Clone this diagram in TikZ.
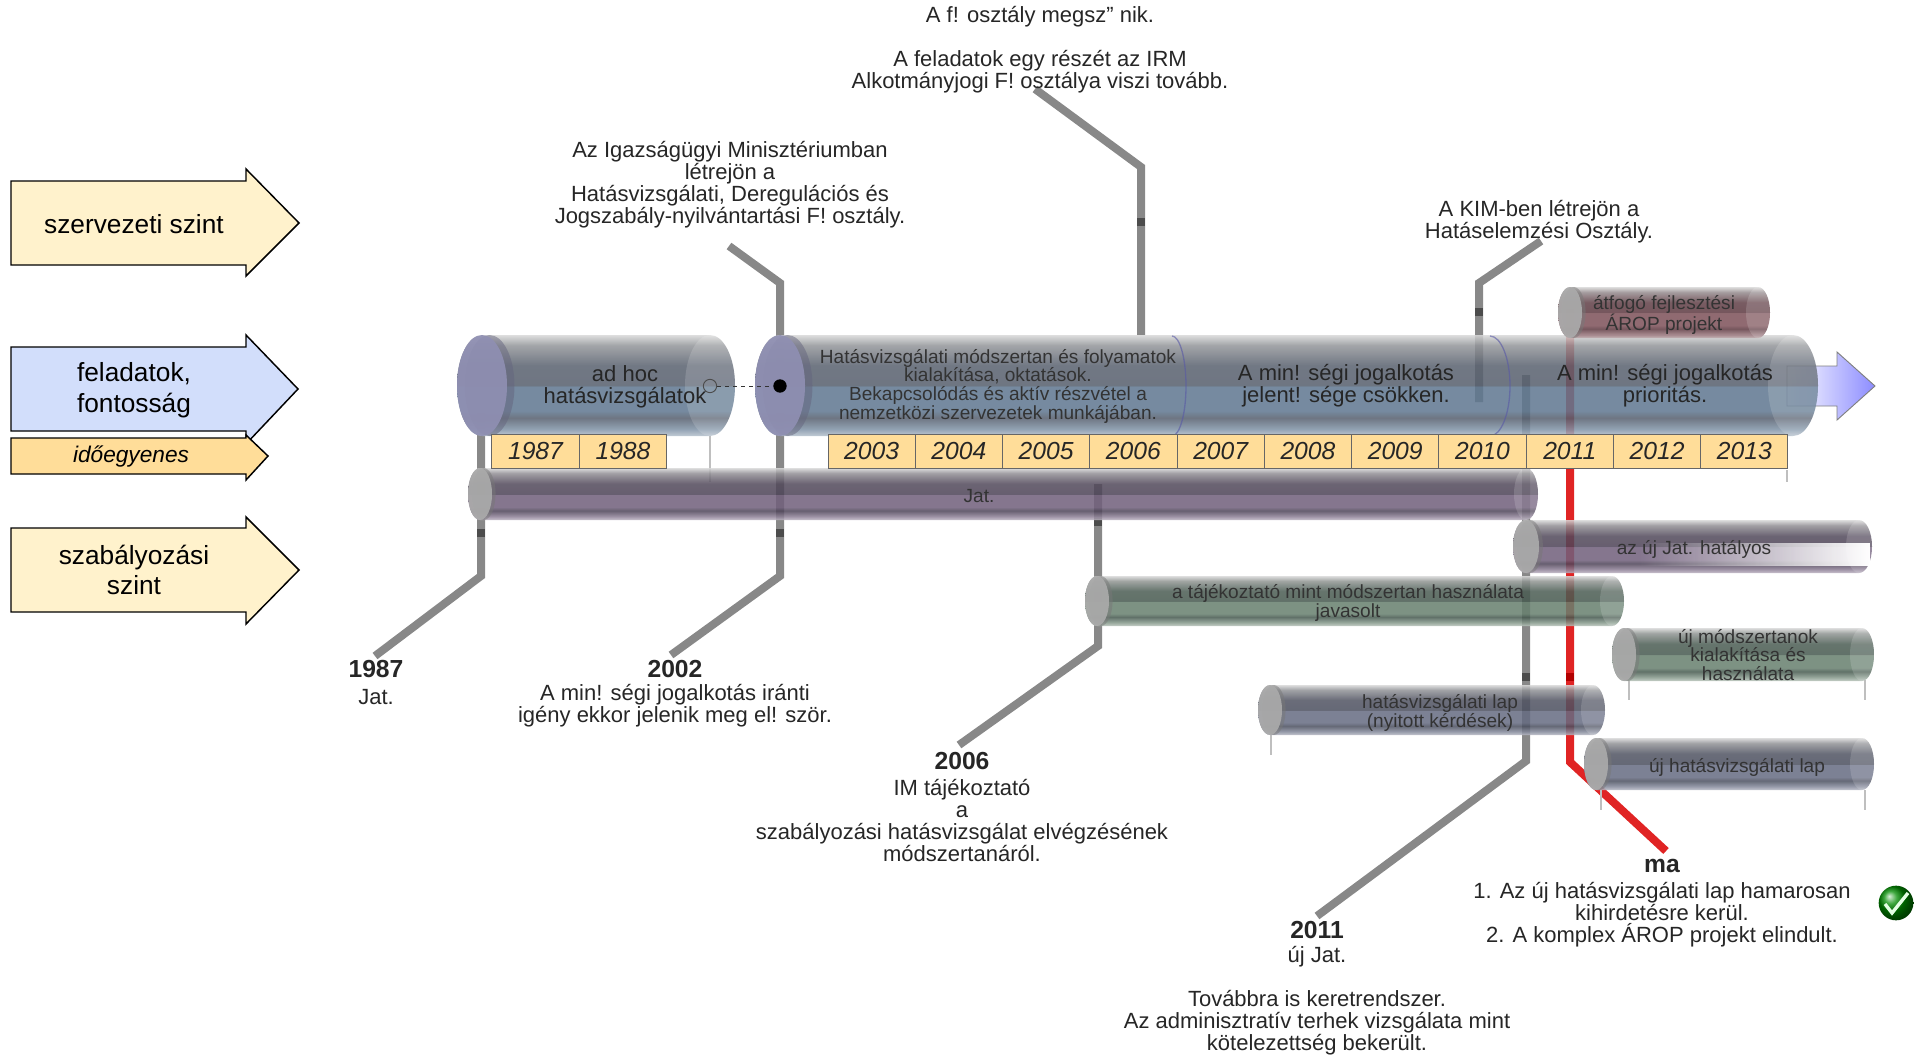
\documentclass[tikz,border=0pt]{standalone}
\usepackage{fontspec}
\setmainfont{Liberation Sans}
\usetikzlibrary{positioning}
\usetikzlibrary{fadings}

\definecolor{szintsarga}{HTML}{FFF2CC}
\definecolor{szintkek}{HTML}{D2DEFB}
\definecolor{evsarga}{HTML}{FFDD99}
\definecolor{mapiros}{HTML}{E02424}

% henger band colours: name, dark, mid
\newcommand{\hengerszin}[3]{%
 \pgfdeclareverticalshading{#1}{100bp}{%
  color(0bp)=(#3!45!white); color(25bp)=(#3!45!white); color(28.5bp)=(#3!80!white);
  color(34bp)=(#2); color(37.5bp)=(#3); color(49.5bp)=(#3); color(50bp)=(#2);
  color(60bp)=(#2!90!gray); color(70bp)=(#2!35!gray!75!white); color(75bp)=(black!15); color(100bp)=(black!15)}}
\definecolor{kekS}{HTML}{565F6E}\definecolor{kekK}{HTML}{5F7790}
\definecolor{liS}{HTML}{4E4458}\definecolor{liK}{HTML}{71607C}
\definecolor{zoS}{HTML}{475A50}\definecolor{zoK}{HTML}{68806F}
\definecolor{paS}{HTML}{4C5060}\definecolor{paK}{HTML}{666C82}
\definecolor{boS}{HTML}{5F3A42}\definecolor{boK}{HTML}{7E525A}
\hengerszin{kekhenger}{kekS}{kekK}
\hengerszin{lilahenger}{liS}{liK}
\hengerszin{zoldhenger}{zoS}{zoK}
\hengerszin{palahenger}{paS}{paK}
\hengerszin{borhenger}{boS}{boK}

% henger: x1, x2, y1, y2, cap radius, shading, cap colour
\newcommand{\henger}[7]{%
 \pgfmathsetmacro{\hbal}{#1+#5}\pgfmathsetmacro{\hjobb}{#2-#5}
 \pgfmathsetmacro{\hmid}{(#3+#4)/2}\pgfmathsetmacro{\hry}{(#4-#3)/2}
 \shade[shading=#6,opacity=.86] (\hbal,#3) -- (\hjobb,#3)
   arc[start angle=-90,end angle=90,x radius=#5,y radius=\hry] -- (\hbal,#4)
   arc[start angle=90,end angle=270,x radius=#5,y radius=\hry] -- cycle;
 \fill[white,opacity=.15] (\hjobb,\hmid) ellipse [x radius=#5,y radius=\hry];
 \fill[#7!70!black,opacity=.5] (\hbal+#5*.3,\hmid) ellipse [x radius=#5,y radius=\hry];
 \fill[#7,opacity=.92] (\hbal,\hmid) ellipse [x radius=#5,y radius=\hry];
}

\tikzset{
 szintnyil/.style={draw=black,line width=1.1pt,miter limit=6},
 evdoboz/.style={draw=black!60,fill=evsarga,line width=.7pt,minimum width=65.4pt,minimum height=25pt,
   inner sep=0pt,font=\fontsize{18.5pt}{20pt}\selectfont\itshape,text=black!85},
 szoveg/.style={align=center,inner sep=0pt,font=\fontsize{16.5pt}{16.5pt}\selectfont,text=black!85},
 cim/.style={inner sep=0pt,font=\fontsize{18.5pt}{20pt}\selectfont\bfseries,text=black!85},
 szintfelirat/.style={align=center,inner sep=0pt,font=\fontsize{19.7pt}{23pt}\selectfont},
 hengerfelirat/.style={align=center,inner sep=0pt,font=\fontsize{16.5pt}{16.5pt}\selectfont,text=black!85},
 kishenger/.style={align=center,inner sep=0pt,font=\fontsize{14.3pt}{14pt}\selectfont,text=black!80},
 idovonal/.style={draw=black!55,line width=6pt,opacity=.85},
 mavonal/.style={draw=mapiros,line width=6pt},
 halvany/.style={draw=black!25,line width=1.2pt},
}

\begin{document}
\begin{tikzpicture}[x=.75pt,y=-.75pt]
 \useasboundingbox (0,0) rectangle (1921,1056);

 % left arrows
 \draw[szintnyil,fill=szintsarga] (11,181) -- (246,181) -- (246,169) -- (299,223) -- (246,276) -- (246,265) -- (11,265) -- cycle;
 \draw[szintnyil,fill=szintkek] (11,347) -- (246,347) -- (246,335) -- (298,389) -- (246,444) -- (246,431) -- (11,431) -- cycle;
 \draw[szintnyil,fill=evsarga] (11,438) -- (246,438) -- (246,435) -- (268,456) -- (246,480) -- (246,474) -- (11,474) -- cycle;
 \draw[szintnyil,fill=szintsarga] (11,528) -- (246,528) -- (246,517) -- (299,570) -- (246,624) -- (246,612) -- (11,612) -- cycle;
 \node[szintfelirat] (szervezeti) at (134,224) {szervezeti szint};
 \node[szintfelirat] (feladatok) at (134,390) {feladatok,\\fontosság};
 \node[szintfelirat,font=\fontsize{17pt}{20pt}\selectfont\itshape] (idoegyenes) at (131,457) {időegyenes};
 \node[szintfelirat] (szabalyozasi) at (134,570) {szabályozási\\szint};

 % end of the time axis
 \shade[left color=white,right color=blue!45!white,draw=black!50,line width=.7pt] (1787,366) -- (1837,366) -- (1837,352) -- (1875,386) -- (1837,420) -- (1837,406) -- (1787,406) -- cycle;

 % callout lines
 \coordinate (a87) at (481,381); \coordinate (b87) at (481,576); \coordinate (c87) at (375,656);
 \coordinate (a02) at (729,246); \coordinate (b02) at (780,283); \coordinate (c02) at (780,576); \coordinate (d02) at (671,655);
 \coordinate (a06) at (1035,89); \coordinate (b06) at (1141,167); \coordinate (c06) at (1141,335);
 \coordinate (d06) at (1098,484); \coordinate (e06) at (1098,646); \coordinate (f06) at (959,745);
 \coordinate (akim) at (1541,241); \coordinate (bkim) at (1479,283); \coordinate (ckim) at (1479,402);
 \coordinate (a11) at (1526,375); \coordinate (b11) at (1526,761); \coordinate (c11) at (1317,916);
 \coordinate (ama) at (1570,309); \coordinate (bma) at (1570,762); \coordinate (cma) at (1666,851);
 \draw[idovonal] (a87) -- (b87) -- (c87);
 \draw[idovonal] (a02) -- (b02) -- (c02) -- (d02);
 \draw[idovonal] (a06) -- (b06) -- (c06);
 \draw[idovonal] (d06) -- (e06) -- (f06);
 \draw[idovonal] (akim) -- (bkim) -- (ckim);
 \draw[idovonal] (a11) -- (b11) -- (c11);
 \draw[mavonal] (ama) -- (bma) -- (cma);
 \foreach \tx/\ty in {481/533,780/533,1141/222,1479/312,1526/677,1098/522}
  \fill[black!70] (\tx-4,\ty-4) rectangle (\tx+4,\ty+4);
 \fill[red!70!black] (1566,673) rectangle (1574,681);

 % faint ticks
 \draw[halvany] (710,436) -- (710,482);
 \draw[halvany] (1787,470) -- (1787,482);
 \draw[halvany] (1271,735) -- (1271,755);
 \draw[halvany] (1629,680) -- (1629,700);
 \draw[halvany] (1865,680) -- (1865,700);
 \draw[halvany] (1601,790) -- (1601,810);
 \draw[halvany] (1865,790) -- (1865,810);

 % cylinders
 \henger{457}{735}{335}{436}{25}{kekhenger}{black!20!blue!25!gray!70!white}
 \henger{755}{1818}{335}{436}{25}{kekhenger}{black!20!blue!25!gray!70!white}
 \draw[blue!30!gray,line width=1pt,opacity=.6] (1172,336) arc[start angle=-90,end angle=90,x radius=14,y radius=50];
 \draw[blue!30!gray,line width=1pt,opacity=.6] (1490,336) arc[start angle=-90,end angle=90,x radius=20,y radius=50];
 \henger{1558}{1770}{287}{338}{12}{borhenger}{black!10!gray!60!white}
 \henger{468}{1538}{468}{520}{12}{lilahenger}{black!10!gray!60!white}
 \henger{1513}{1872}{520}{573}{13}{lilahenger}{black!10!gray!60!white}
 \fill[white,path fading=west] (1640,543) rectangle (1870,566);
 \henger{1085}{1624}{576}{626}{12}{zoldhenger}{black!10!gray!60!white}
 \henger{1612}{1874}{628}{681}{12}{zoldhenger}{black!10!gray!60!white}
 \henger{1258}{1605}{685}{735}{12}{palahenger}{black!10!gray!60!white}
 \henger{1584}{1874}{738}{790}{12}{palahenger}{black!10!gray!60!white}

 % dashed link
 \node[circle,draw=black!70,line width=.7pt,minimum size=10pt,inner sep=0pt] (nyitott) at (710,386) {};
 \node[circle,fill=black,minimum size=10pt,inner sep=0pt] (teli) at (780,386) {};
 \draw[dashed,black!80,line width=.7pt] (nyitott) -- (teli);

 % years
 \node[evdoboz] (ev1987) at (535.5,451.5) {1987};
 \node[evdoboz] (ev1988) at (623,451.5) {1988};
 \foreach \ev [evaluate=\ev as \evx using {871.6+87.27*(\ev-2003)}] in {2003,...,2013}
  \node[evdoboz] (ev\ev) at (\evx,451.5) {\ev};

 % texts on the cylinders
 \node[hengerfelirat] (adhoc) at (625,387) {ad hoc\\hatásvizsgálatok};
 \node[kishenger] (modszertan) at (998,386) {Hatásvizsgálati módszertan és folyamatok\\kialakítása, oktatások.\\Bekapcsolódás és aktív részvétel a\\nemzetközi szervezetek munkájában.};
 \node[hengerfelirat] (csokken) at (1346,386) {A min! ségi jogalkotás\\jelent! sége csökken.};
 \node[hengerfelirat] (prioritas) at (1665,386) {A min! ségi jogalkotás\\prioritás.};
 \node[kishenger] (arop) at (1664,315) {átfogó fejlesztési\\ÁROP projekt};
 \node[kishenger] (jat) at (979,496) {Jat.};
 \node[kishenger] (ujjat) at (1694,549) {az új Jat. hatályos};
 \node[kishenger] (tajekoztato) at (1348,603) {a tájékoztató mint módszertan használata\\javasolt};
 \node[kishenger] (ujmodszer) at (1748,655) {új módszertanok\\kialakítása és\\használata};
 \node[kishenger] (lap) at (1440,713) {hatásvizsgálati lap\\(nyitott kérdések)};
 \node[kishenger] (ujlap) at (1737,767) {új hatásvizsgálati lap};

 % texts above and below
 \node[szoveg] (megszunik) at (1040,50) {A f! osztály megsz" nik.\\[16.5pt]A feladatok egy részét az IRM\\Alkotmányjogi F! osztálya viszi tovább.};
 \node[szoveg] (letrejon) at (730,185) {Az Igazságügyi Minisztériumban\\létrejön a\\Hatásvizsgálati, Deregulációs és\\Jogszabály-nyilvántartási F! osztály.};
 \node[szoveg] (kim) at (1539,222) {A KIM-ben létrejön a\\Hatáselemzési Osztály.};
 \node[cim] (c1987) at (376,669) {1987};
 \node[szoveg] (t1987) at (376,697) {Jat.};
 \node[cim] (c2002) at (675,669) {2002};
 \node[szoveg] (t2002) at (675,706) {A min! ségi jogalkotás iránti\\igény ekkor jelenik meg el! ször.};
 \node[cim] (c2006) at (962,761) {2006};
 \node[szoveg] (t2006) at (962,820) {IM tájékoztató\\a\\szabályozási hatásvizsgálat elvégzésének\\módszertanáról.};
 \node[cim] (c2011) at (1317,930) {2011};
 \node[szoveg] (t2011) at (1317,1001) {új Jat.\\[16.5pt]Továbbra is keretrendszer.\\Az adminisztratív terhek vizsgálata mint\\kötelezettség bekerült.};
 \node[cim] (cma2) at (1662,866) {ma};
 \node[szoveg] (tma) at (1662,915) {1. Az új hatásvizsgálati lap hamarosan\\kihirdetésre kerül.\\2. A komplex ÁROP projekt elindult.};

 % tick mark
 \node[circle,minimum size=26pt,inner sep=0pt,shading=ball,ball color=green!55!black] (pipa) at (1896,903) {};
 \coordinate (p1) at (1885,904); \coordinate (p2) at (1892,913); \coordinate (p3) at (1908,893);
 \draw[white!90!green,line width=2.5pt] (p1) -- (p2) -- (p3);
\end{tikzpicture}
\end{document}
